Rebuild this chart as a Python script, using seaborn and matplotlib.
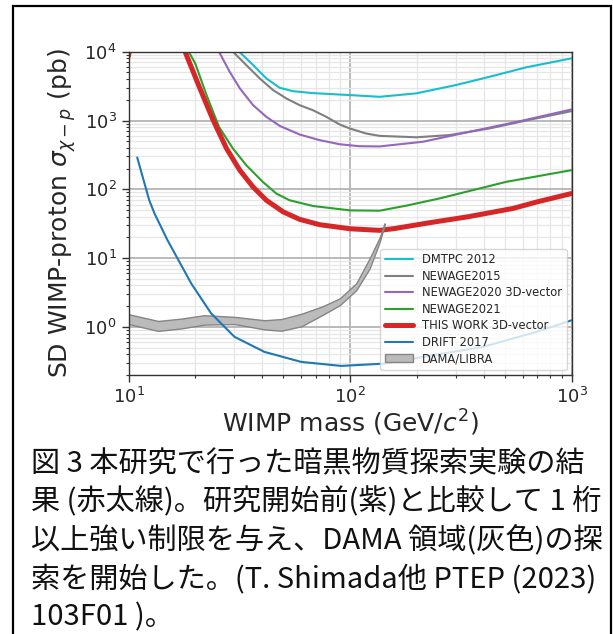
import numpy as np
import pandas as pd
import matplotlib
matplotlib.use("Agg")
import matplotlib.pyplot as plt
import seaborn as sns
from matplotlib.lines import Line2D
from matplotlib.ticker import LogLocator, NullFormatter

# ---------------- data ----------------
mass_dmtpc = [31.6, 36.5, 41.9, 48.1, 55.2, 68.0, 100, 136, 199, 301, 427, 624, 1000]
sigma_dmtpc = [1.0e4, 6390, 4090, 2990, 2670, 2500, 2340, 2210, 2480, 3280, 4330, 5930, 8010]

mass_n2015 = [29.6, 34.0, 39.1, 44.9, 51.6, 59.2, 68.0, 78.1, 89.7, 100, 118, 136, 199, 281, 427, 669, 1000]
sigma_n2015 = [1.0e4, 6390, 4090, 2770, 2090, 1670, 1410, 1130, 875, 764, 647, 598, 570, 614, 768, 1050, 1370]

mass_n2020 = [25.6, 28.6, 31.8, 36.5, 41.9, 48.1, 59.2, 72.9, 89.7, 110, 136, 213, 359, 603, 1000]
sigma_n2020 = [1.0e4, 5120, 2930, 1670, 1130, 836, 626, 518, 452, 423, 420, 491, 703, 1000, 1450]

mass_n2021 = [18.7, 20.0, 22.5, 25.6, 29.6, 34.0, 40.4, 46.5, 53.4, 68.0, 100, 136, 180, 253, 507, 1000]
sigma_n2021 = [1.0e4, 6760, 2340, 809, 391, 224, 128, 86.5, 69.2, 57.2, 49.4, 48.9, 58, 73.6, 128.5, 190]

mass_this = [18.0, 21.0, 24.1, 27.7, 31.8, 36.5, 41.9, 50, 59.2, 72.9, 100, 136, 160, 227, 342, 543, 700, 1000]
sigma_this = [1.0e4, 2930, 1010, 391, 189, 108, 69.2, 46.8, 36.6, 30.6, 26.7, 25.3, 27, 32.6, 40, 52.7, 65.8, 87]
mass_this_edge = [10.0, 10.15]
sigma_this_edge = [8650, 1.2e4]

mass_drift = [10.95, 12.4, 13.1, 15.0, 19.2, 23.6, 30.1, 41.1, 60.2, 91.2, 143, 250, 398, 692, 1000]
sigma_drift = [290, 69.7, 44.6, 18.2, 4.27, 1.57, 0.716, 0.433, 0.31, 0.271, 0.293, 0.40, 0.512, 0.845, 1.25]

mass_dama = [10, 13.6, 17.3, 22, 30.1, 41.1, 48.9, 60.2, 75.3, 89.8, 106.6, 122.5, 136, 143]
dama_upper = [1.53, 1.22, 1.32, 1.48, 1.40, 1.25, 1.30, 1.55, 2.0, 2.6, 4.3, 9.9, 20, 32]
dama_lower = [1.10, 0.875, 0.95, 1.08, 1.10, 0.92, 0.88, 1.02, 1.5, 2.07, 3.42, 7.07, 17.2, 30]

labels = ["DMTPC 2012", "NEWAGE2015", "NEWAGE2020 3D-vector", "NEWAGE2021",
          "THIS WORK 3D-vector", "DRIFT 2017", "DAMA/LIBRA"]

caption_lines = [
    "図 3 本研究で行った暗黒物質探索実験の結",
    "果 (赤太線)。研究開始前(紫)と比較して 1 桁",
    "以上強い制限を与え、DAMA 領域(灰色)の探",
    "索を開始した。(T. Shimada他 PTEP (2023)",
    "103F01 )。",
]

# ---------------- style ----------------
sns.set_theme(style="ticks")
plt.rcParams['font.family'] = ['DejaVu Sans']
plt.rcParams['mathtext.fontset'] = 'dejavusans'

W, H = 613, 634
fig = plt.figure(figsize=(W / 100, H / 100), dpi=100)
fig.patch.set_facecolor("white")
ax = fig.add_axes([128.5 / W, 1 - 375 / H, (571.7 - 128.5) / W, (375 - 51.7) / H])
ax.set_xscale("log")
ax.set_yscale("log")

c_cyan, c_gray, c_purple = "#17becf", "#7f7f7f", "#9467bd"
c_green, c_red, c_blue = "#2ca02c", "#d62728", "#1f77b4"

sns.lineplot(x=mass_dmtpc, y=sigma_dmtpc, ax=ax, color=c_cyan, lw=1.5, label=labels[0], sort=False, zorder=2)
sns.lineplot(x=mass_n2015, y=sigma_n2015, ax=ax, color=c_gray, lw=1.5, label=labels[1], sort=False, zorder=2)
sns.lineplot(x=mass_n2020, y=sigma_n2020, ax=ax, color=c_purple, lw=1.5, label=labels[2], sort=False, zorder=2)
sns.lineplot(x=mass_n2021, y=sigma_n2021, ax=ax, color=c_green, lw=1.5, label=labels[3], sort=False, zorder=2)
sns.lineplot(x=mass_this, y=sigma_this, ax=ax, color=c_red, lw=3.6, label=labels[4], sort=False, zorder=2.2)
sns.lineplot(x=mass_this_edge, y=sigma_this_edge, ax=ax, color=c_red, lw=3.6, sort=False, zorder=2.2, legend=False)
ax.fill_between(mass_dama, dama_lower, dama_upper, facecolor="#bbbbbb", edgecolor="#858585",
                lw=1.0, label=labels[6], zorder=2.5)
sns.lineplot(x=mass_drift, y=sigma_drift, ax=ax, color=c_blue, lw=1.5, label=labels[5], sort=False, zorder=3)

ax.set_xlim(10, 1000)
ax.set_ylim(0.2, 1e4)

ax.xaxis.set_major_locator(LogLocator(base=10, numticks=10))
ax.yaxis.set_major_locator(LogLocator(base=10, numticks=10))
ax.xaxis.set_minor_locator(LogLocator(base=10, subs=np.arange(2, 10), numticks=50))
ax.yaxis.set_minor_locator(LogLocator(base=10, subs=np.arange(2, 10), numticks=50))
ax.xaxis.set_minor_formatter(NullFormatter())
ax.yaxis.set_minor_formatter(NullFormatter())

ax.set_axisbelow(True)
ax.grid(which="major", color="#b4b4b4", lw=1.3)
ax.grid(which="minor", color="#e6e6e6", lw=0.9)
for s in ax.spines.values():
    s.set_visible(True)
    s.set_color("#333333")
    s.set_linewidth(1.0)

ax.tick_params(which="major", direction="out", length=5, width=1, labelsize=13, color="#333333")
ax.tick_params(which="minor", direction="out", length=2.5, width=0.8, color="#333333")

ax.set_xlabel(r"WIMP mass (GeV/$c^2$)", fontsize=18, labelpad=1)
ax.set_ylabel(r"SD WIMP-proton $\sigma_{\chi-p}$ (pb)", fontsize=18, labelpad=4.5)

handles, labs = ax.get_legend_handles_labels()
hmap = dict(zip(labs, handles))
ax.legend([hmap[l] for l in labels], labels, loc="lower right", fontsize=8.3,
          frameon=True, framealpha=0.8, edgecolor="0.8", fancybox=True,
          handlelength=2.4, handletextpad=0.8, borderaxespad=0.45, labelspacing=0.3)

# caption
ys = [464, 502.5, 541, 579, 617]
for line, y in zip(caption_lines, ys):
    fig.text(31 / W, 1 - y / H, line, fontsize=21, va="center", ha="left",
             family=["Noto Sans CJK JP", "DejaVu Sans"], color="#111111")

# outer frame
xl, xr, yt = 13 / W, 610.5 / W, 1 - 5.5 / H
fig.add_artist(Line2D([xl, xl, xr, xr], [-0.02, yt, yt, -0.02], transform=fig.transFigure,
                      color="black", lw=1.6, solid_joinstyle="miter"))

fig.savefig("out.png", dpi=100)
